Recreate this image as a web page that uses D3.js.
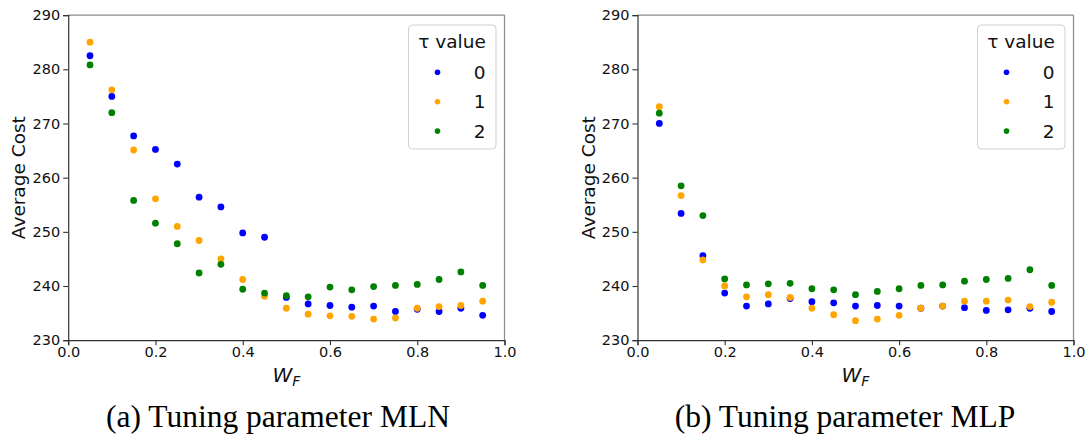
<!DOCTYPE html>
<html><head><meta charset="utf-8">
<script src="https://cdn.jsdelivr.net/npm/d3@7"></script>
<style>body{margin:0;background:#fff}svg{display:block}</style>
</head><body>
<svg id="c" width="1086" height="434"></svg>
<script>
const wf = [0.05,0.1,0.15,0.2,0.25,0.3,0.35,0.4,0.45,0.5,0.55,0.6,0.65,0.7,0.75,0.8,0.85,0.9,0.95];
const mlnTau0 = [282.5,275.0,267.7,265.2,262.5,256.4,254.6,249.8,249.0,237.9,236.7,236.4,236.1,236.3,235.3,235.7,235.3,235.9,234.6];
const mlnTau1 = [285.0,276.2,265.1,256.1,251.0,248.4,245.0,241.2,238.1,235.9,234.8,234.5,234.4,233.9,234.1,235.9,236.2,236.4,237.2];
const mlnTau2 = [280.8,272.0,255.8,251.6,247.8,242.4,244.0,239.4,238.7,238.2,238.0,239.8,239.3,239.9,240.1,240.3,241.2,242.6,240.1];
const mlpTau0 = [270.0,253.4,245.6,238.7,236.3,236.7,237.7,237.1,236.9,236.3,236.4,236.3,235.9,236.3,236.0,235.5,235.6,235.9,235.3];
const mlpTau1 = [273.1,256.7,244.8,240.0,238.0,238.4,237.9,235.9,234.7,233.6,233.9,234.6,235.9,236.3,237.2,237.2,237.4,236.2,237.0];
const mlpTau2 = [271.9,258.5,253.0,241.3,240.2,240.4,240.5,239.5,239.3,238.4,239.0,239.5,240.1,240.2,240.9,241.2,241.4,243.0,240.1];
const tauLabels = ["0","1","2"];
const colors = ["#0000ff","#ffa500","#008000"];
const xTicks = [0,0.2,0.4,0.6,0.8,1.0];
const yTicks = [230,240,250,260,270,280,290];
const captions = ["(a) Tuning parameter MLN","(b) Tuning parameter MLP"];

const svg = d3.select("#c");
const panels = [
  {x0:68.2, x1:504.5, series:[mlnTau0,mlnTau1,mlnTau2], cap:captions[0], capX:278, ylabX:18},
  {x0:637.5, x1:1073.5, series:[mlpTau0,mlpTau1,mlpTau2], cap:captions[1], capX:845, ylabX:588}
];
const yTop = 15.1, yBot = 340.2;
const font = "DejaVu Sans, sans-serif";

panels.forEach(p => {
  const x = d3.scaleLinear().domain([0,1]).range([p.x0,p.x1]);
  const y = d3.scaleLinear().domain([230,290]).range([yBot,yTop]);
  const g = svg.append("g");
  g.append("line").attr("x1",p.x0).attr("x2",p.x1).attr("y1",yTop).attr("y2",yTop).attr("stroke","#8a8a8a").attr("stroke-width",1.2);
  g.append("line").attr("x1",p.x1).attr("x2",p.x1).attr("y1",yTop).attr("y2",yBot).attr("stroke","#8a8a8a").attr("stroke-width",1.2);
  const xa = g.append("g").attr("transform",`translate(0,${yBot})`)
    .call(d3.axisBottom(x).tickValues(xTicks).tickFormat(d3.format(".1f")).tickSize(5).tickPadding(2));
  const ya = g.append("g").attr("transform",`translate(${p.x0},0)`)
    .call(d3.axisLeft(y).tickValues(yTicks).tickSize(5).tickPadding(3));
  [xa,ya].forEach(a=>{
    a.select(".domain").attr("stroke","#333").attr("stroke-width",1.2);
    a.selectAll(".tick line").attr("stroke","#333").attr("stroke-width",1.1);
    a.selectAll("text").attr("font-family",font).attr("font-size",14.5).attr("fill","#111");
  });
  p.series.forEach((s,i) => {
    g.append("g").selectAll("circle").data(wf).join("circle")
      .attr("cx",d=>x(d)).attr("cy",(d,j)=>y(s[j])).attr("r",3.4).attr("fill",colors[i]);
  });
  g.append("text").attr("transform",`translate(${p.ylabX},${(yTop+yBot)/2}) rotate(-90)`)
    .attr("text-anchor","middle").attr("dominant-baseline","central")
    .attr("font-family",font).attr("font-size",18.5).attr("fill","#111").text("Average Cost");
  const xl = g.append("text").attr("x",(p.x0+p.x1)/2).attr("y",382)
    .attr("text-anchor","middle").attr("font-family",font).attr("font-size",20).attr("fill","#111");
  xl.append("tspan").attr("font-style","italic").text("W");
  xl.append("tspan").attr("font-style","italic").attr("font-size",14).attr("dy",4).text("F");
  g.append("text").attr("x",p.capX).attr("y",427).attr("text-anchor","middle")
    .attr("font-family","Liberation Serif, Times New Roman, serif").attr("font-size",31.5).attr("fill","#000").text(p.cap);
  const lx = p.x1 - 96, ly = 25;
  const lg = g.append("g");
  lg.append("rect").attr("x",lx).attr("y",ly).attr("width",87.5).attr("height",124).attr("rx",4)
    .attr("fill","#fff").attr("fill-opacity",0.8).attr("stroke","#d0d0d0").attr("stroke-width",1);
  lg.append("text").attr("x",lx+43.5).attr("y",ly+23).attr("text-anchor","middle")
    .attr("font-family",font).attr("font-size",18.5).attr("fill","#111").text("τ value");
  tauLabels.forEach((t,i)=>{
    const cy = ly + 47.3 + i*29.4;
    lg.append("circle").attr("cx",lx+29).attr("cy",cy).attr("r",2.8).attr("fill",colors[i]);
    lg.append("text").attr("x",lx+77).attr("y",cy).attr("text-anchor","end").attr("dominant-baseline","central")
      .attr("font-family",font).attr("font-size",18.5).attr("fill","#111").text(t);
  });
});
</script>
</body></html>
